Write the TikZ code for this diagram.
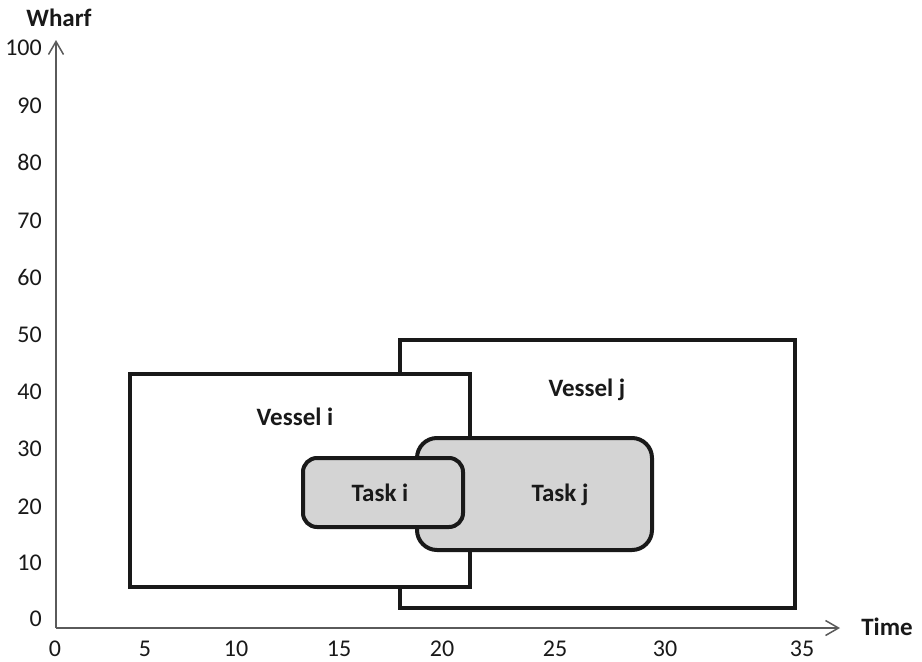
\documentclass[tikz,border=0pt]{standalone}
\usepackage{fontspec}
\setmainfont{Carlito}
\usetikzlibrary{arrows.meta}
\definecolor{taskgray}{RGB}{212,212,212}
\definecolor{axisgray}{RGB}{90,90,90}
\definecolor{ink}{RGB}{25,25,25}
\tikzset{
  box/.style={draw=ink, line width=4pt, inner sep=0pt, outer sep=0pt, fill=white},
  taskbox/.style={box, fill=taskgray},
  boxlabel/.style={font=\fontsize{25}{29}\selectfont\bfseries, text=ink, anchor=base, inner sep=0pt},
  ticklabel/.style={font=\fontsize{24}{28}\selectfont, text=ink, anchor=base, inner sep=0pt},
  ylabel/.style={ticklabel, anchor=base east},
  axislabel/.style={font=\fontsize{25}{29}\selectfont\bfseries, text=ink, anchor=base, inner sep=0pt},
  axis/.style={draw=axisgray, line width=1.5pt, -{Straight Barb[length=13pt,width=15pt,line width=1.5pt]}}
}
\begin{document}
\begin{tikzpicture}[x=1pt,y=-1pt]
\useasboundingbox (0,0) rectangle (922,662);
% axes
\coordinate (o) at (56,628);
\coordinate (ytip) at (56,40);
\coordinate (xtip) at (840,628);
\draw[axis] (o) -- (ytip);
\draw[axis] (o) -- (xtip);
\node[axislabel] (wharf) at (59,26) {Wharf};
\node[axislabel] (time) at (887,635) {Time};
% y tick labels
\foreach \v/\y in {100/48,90/106,80/163,70/221,60/278,50/335,40/392,30/449,20/507,10/563,0/619}{
  \node[ylabel] (y\v) at (42,\y+7.5) {\v};
}
% x tick labels
\foreach \v/\x in {0/55,5/145,10/236,15/339,20/442,25/555,30/665,35/802}{
  \node[ticklabel] (x\v) at (\x,656) {\v};
}
% vessels
\node[box, minimum width=395pt, minimum height=268pt] (vj) at (597.5,474) {};
\node[box, minimum width=340pt, minimum height=213pt] (vi) at (300,480.5) {};
% tasks
\node[taskbox, rounded corners=20pt, minimum width=235pt, minimum height=112pt] (tj) at (534.5,494) {};
\node[taskbox, rounded corners=14pt, minimum width=160pt, minimum height=69pt] (ti) at (383,492.5) {};
% labels
\node[boxlabel] (lvi) at (295,425) {Vessel i};
\node[boxlabel] (lvj) at (587,396) {Vessel j};
\node[boxlabel] (lti) at (380,501) {Task i};
\node[boxlabel] (ltj) at (560,501) {Task j};
\end{tikzpicture}
\end{document}
